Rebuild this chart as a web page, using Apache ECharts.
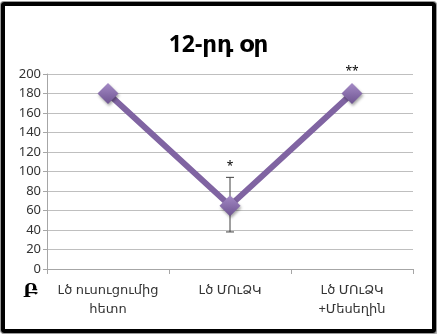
<!DOCTYPE html>
<html><head><meta charset="utf-8">
<script src="https://cdn.jsdelivr.net/npm/echarts@6/dist/echarts.min.js"></script>
<style>
html,body{margin:0;padding:0;background:#fff;}
#frame{position:absolute;left:1px;top:2px;width:427px;height:323px;border:4px solid #000;border-radius:3px;box-shadow:0 0 0 1px #9a9a9a, 2px 2px 0 1px #bbb;}
#c{position:absolute;left:0;top:0;width:437px;height:334px;}
</style></head>
<body>
<div id="frame"></div>
<div id="c"></div>
<script>
const categories = ['Lծ ուսուցումից\nհետո', 'Lծ ՄՈւՁԿ', 'Lծ ՄՈւՁԿ\n+Մեսեղին'];
const values = [180, 65, 180];
const errLow = [null, 38, null];
const errHigh = [null, 94, null];
const marks = ['', '*', '**'];
const yTicks = {min: 0, max: 200, interval: 20};
const titleText = '12-րդ օր';
const cornerText = 'Բ';

const font = '"Noto Sans","DejaVu Sans",sans-serif';
const chart = echarts.init(document.getElementById('c'), null, {renderer: 'canvas'});

chart.setOption({
  animation: false,
  title: {
    text: titleText, left: 'center', top: 29,
    textStyle: {fontFamily: font, fontSize: 23, fontWeight: 'bold', color: '#000'}
  },
  grid: {left: 47, right: 24, top: 74, bottom: 65},
  xAxis: {
    type: 'category', data: categories, boundaryGap: true,
    axisLine: {lineStyle: {color: '#a6a6a6', width: 1}},
    axisTick: {show: true, length: 5, inside: false, lineStyle: {color: '#a6a6a6'}},
    axisLabel: {fontFamily: font, fontSize: 13, color: '#333', margin: 12, lineHeight: 19, interval: 0}
  },
  yAxis: {
    type: 'value', min: yTicks.min, max: yTicks.max, interval: yTicks.interval,
    axisLine: {show: true, lineStyle: {color: '#a6a6a6'}},
    axisTick: {show: true, length: 4, lineStyle: {color: '#a6a6a6'}},
    axisLabel: {fontFamily: font, fontSize: 13, color: '#333', margin: 6},
    splitLine: {lineStyle: {color: '#bfbfbf', width: 1}}
  },
  graphic: [{
    type: 'text', left: 23, top: 283,
    style: {text: cornerText, font: 'bold 18px "DejaVu Serif",serif', fill: '#000'}
  }],
  series: [
    {
      type: 'line', data: values,
      lineStyle: {color: '#8064A2', width: 6},
      symbol: 'diamond', symbolSize: [21, 21],
      itemStyle: {
        color: new echarts.graphic.LinearGradient(0, 0, 0, 1, [
          {offset: 0, color: '#a58bc6'}, {offset: 1, color: '#6e5491'}
        ]),
        shadowColor: 'rgba(0,0,0,0.35)', shadowBlur: 3, shadowOffsetX: 1, shadowOffsetY: 2
      },
      z: 3
    },
    {
      type: 'custom',
      data: categories.map((c, i) => [i, errLow[i], errHigh[i]]),
      renderItem: function (params, api) {
        const i = api.value(0);
        if (errLow[i] == null) return null;
        const lo = api.coord([i, api.value(1)]);
        const hi = api.coord([i, api.value(2)]);
        const w = 4;
        const st = {stroke: '#404040', lineWidth: 1};
        return {type: 'group', children: [
          {type: 'line', shape: {x1: lo[0], y1: lo[1], x2: hi[0], y2: hi[1]}, style: st},
          {type: 'line', shape: {x1: lo[0] - w, y1: lo[1], x2: lo[0] + w, y2: lo[1]}, style: st},
          {type: 'line', shape: {x1: hi[0] - w, y1: hi[1], x2: hi[0] + w, y2: hi[1]}, style: st}
        ]};
      },
      z: 2
    },
    {
      type: 'custom',
      data: categories.map((c, i) => [i, errHigh[i] != null ? errHigh[i] : values[i]]),
      renderItem: function (params, api) {
        const i = api.value(0);
        if (!marks[i]) return null;
        const p = api.coord([i, api.value(1)]);
        const off = errHigh[i] != null ? 5 : 16;
        return {type: 'text', style: {
          text: marks[i], x: p[0], y: p[1] - off, align: 'center', verticalAlign: 'bottom',
          font: '12px ' + font, fill: '#000'
        }};
      },
      z: 4
    }
  ]
});
</script>
</body></html>
